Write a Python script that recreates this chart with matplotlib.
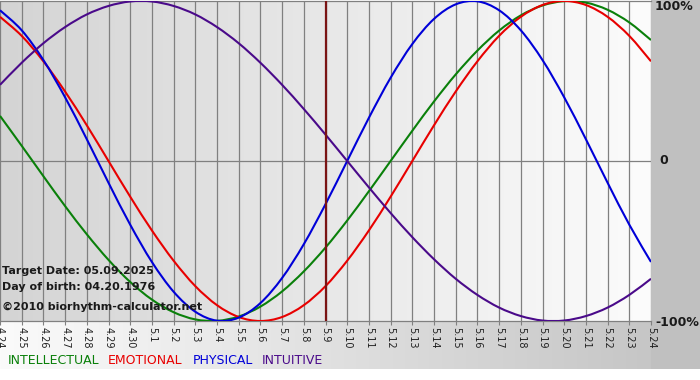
#!/usr/bin/env python3

import matplotlib
matplotlib.use("Agg")
import numpy as np
import matplotlib.pyplot as plt
from matplotlib.colors import LinearSegmentedColormap
from matplotlib.patches import Rectangle, PathPatch
from matplotlib.path import Path

# day labels along the bottom (month.day), 04.24 .. 05.24
days = ['4.24', '4.25', '4.26', '4.27', '4.28', '4.29', '4.30',
        '5.1', '5.2', '5.3', '5.4', '5.5', '5.6', '5.7', '5.8', '5.9',
        '5.10', '5.11', '5.12', '5.13', '5.14', '5.15', '5.16', '5.17',
        '5.18', '5.19', '5.20', '5.21', '5.22', '5.23', '5.24']

# cycle values per day (-1 .. 1)
intellectual = [0.282, 0.095, -0.095, -0.282, -0.458, -0.618, -0.756,
                -0.866, -0.945, -0.990, -0.999, -0.972, -0.910, -0.815,
                -0.690, -0.541, -0.372, -0.189, 0.000, 0.189, 0.372,
                0.541, 0.690, 0.815, 0.910, 0.972, 0.999, 0.990, 0.945,
                0.866, 0.756]
emotional = [0.901, 0.782, 0.623, 0.434, 0.223, 0.000, -0.223, -0.434,
             -0.623, -0.782, -0.901, -0.975, -1.000, -0.975, -0.901,
             -0.782, -0.623, -0.434, -0.223, 0.000, 0.223, 0.434, 0.623,
             0.782, 0.901, 0.975, 1.000, 0.975, 0.901, 0.782, 0.623]
physical = [0.942, 0.817, 0.631, 0.398, 0.136, -0.136, -0.398, -0.631,
            -0.817, -0.942, -0.998, -0.979, -0.888, -0.731, -0.520,
            -0.270, 0.000, 0.270, 0.520, 0.731, 0.888, 0.979, 0.998,
            0.942, 0.817, 0.631, 0.398, 0.136, -0.136, -0.398, -0.631]
intuitive = [0.476, 0.614, 0.736, 0.837, 0.916, 0.969, 0.997, 0.997,
             0.969, 0.916, 0.837, 0.736, 0.614, 0.476, 0.325, 0.165,
             0.000, -0.165, -0.325, -0.476, -0.614, -0.736, -0.837,
             -0.916, -0.969, -0.997, -0.997, -0.969, -0.916, -0.837,
             -0.736]

target_day = '5.9'
target_date = '05.09.2025'
birth_date = '04.20.1976'

series = [('INTELLECTUAL', intellectual, '#0a800a'),
          ('EMOTIONAL', emotional, '#e80000'),
          ('PHYSICAL', physical, '#0000d8'),
          ('INTUITIVE', intuitive, '#4a0a8a')]

W, H = 700, 380


def fx(px):
    return px / W


def fy(py):
    return 1 - py / H


def smooth_path(x, y):
    # bezier path through the daily points (catmull-rom style handles)
    pts = np.column_stack([x, y]).astype(float)
    ext = np.vstack([pts[0], pts, pts[-1]])
    verts = [pts[0]]
    codes = [Path.MOVETO]
    for i in range(len(pts) - 1):
        p0, p1, p2, p3 = ext[i], ext[i + 1], ext[i + 2], ext[i + 3]
        verts += [p1 + (p2 - p0) / 6, p2 - (p3 - p1) / 6, p2]
        codes += [Path.CURVE4] * 3
    return Path(verts, codes)


def main():
    fig = plt.figure(figsize=(7, 3.8), dpi=100)
    fig.patch.set_facecolor('white')

    # background: grey right margin and shaded band below the plot
    bg = fig.add_axes([0, 0, 1, 1], zorder=-10)
    bg.set_axis_off()
    band = LinearSegmentedColormap.from_list('band', ['#fbfbfb', '#c2c2c2'])
    grad = np.linspace(0, 1, 256)[None, :]
    bg.imshow(grad, extent=(0, W, 369, 321), cmap=band, aspect='auto')
    bg.add_patch(Rectangle((651, 0), W - 651, 369, color='#c0c0c0', lw=0))
    bg.set_xlim(0, W)
    bg.set_ylim(H, 0)

    ax = fig.add_axes([fx(0), fy(321), fx(651), 320 / H])
    x = np.arange(len(days))

    shade = LinearSegmentedColormap.from_list('shade', ['#d4d4d4', '#fcfcfc'])
    ax.imshow(grad, extent=(0, len(days) - 1, -1, 1), cmap=shade,
              aspect='auto', zorder=0)

    ax.set_xlim(0, len(days) - 1)
    ax.set_ylim(-1, 1)

    ax.set_xticks(x)
    ax.set_xticklabels(days, rotation=270, fontsize=7, color='#202020')
    ax.set_yticks([])
    ax.tick_params(axis='x', length=3, color='#808080', pad=1)
    ax.grid(axis='x', color='#808080', lw=0.9)
    ax.axhline(0, color='#808080', lw=0.9, zorder=1)

    for side in ('left', 'right'):
        ax.spines[side].set_visible(False)
    for side in ('top', 'bottom'):
        ax.spines[side].set_color('#808080')
        ax.spines[side].set_linewidth(0.9)

    for name, vals, col in series:
        ax.add_patch(PathPatch(smooth_path(x, vals), fill=False,
                               edgecolor=col, lw=1.5, zorder=3))

    ax.axvline(days.index(target_day), color='#7a1414', lw=1.6, zorder=4)

    # info text inside the plot
    info = dict(fontsize=8, fontweight='bold', color='#1a1a1a',
                va='center', ha='left')
    fig.text(fx(2), fy(271), 'Target Date: ' + target_date, **info)
    fig.text(fx(2), fy(287), 'Day of birth: ' + birth_date, **info)
    fig.text(fx(2), fy(307), '\u00a92010 biorhythm-calculator.net', **info)

    # percent labels on the right
    pct = dict(fontsize=9, fontweight='bold', color='#1a1a1a', va='center')
    fig.text(fx(655), fy(7), '100%', **pct)
    fig.text(fx(659), fy(161), '0', **pct)
    fig.text(fx(655), fy(322), '-100%', **pct)

    # legend words
    for (name, vals, col), xp in zip(series, [8, 108, 193, 262]):
        fig.text(fx(xp), fy(361), name, color=col, fontsize=9,
                 va='center', ha='left')

    fig.savefig('out.png', dpi=100)
    plt.close(fig)


if __name__ == "__main__":
    main()
